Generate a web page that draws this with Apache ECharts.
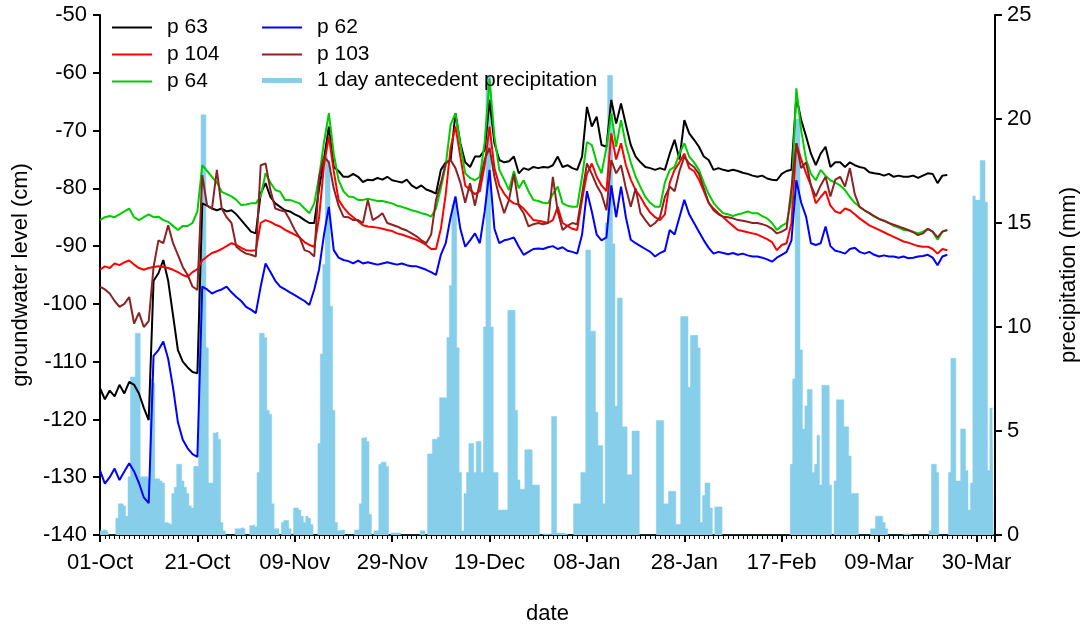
<!DOCTYPE html>
<html>
<head>
<meta charset="utf-8">
<title>groundwater level and precipitation</title>
<script src="https://cdn.jsdelivr.net/npm/echarts@6/dist/echarts.min.js"></script>
<style>
  html, body { margin: 0; padding: 0; background: #fff; }
  #chart { width: 1090px; height: 631px; }
</style>
</head>
<body>
<div id="chart"></div>
<script>
// x labels, one every 20 days from 01-Oct
var xTickLabels = ['01-Oct', '21-Oct', '09-Nov', '29-Nov', '19-Dec', '08-Jan', '28-Jan', '17-Feb', '09-Mar', '30-Mar']

// groundwater level (cm), one value per day from 01-Oct
var p63 = [
  -114.6, -116.5, -115, -116, -114, -115.5, -113.5, -114, -115.5, -118,
  -120.1, -96, -94.7, -92.4, -96, -102, -108, -110, -111, -111.8,
  -112, -82.6, -83, -83.5, -83.8, -83.5, -84, -83.8, -84.5, -85.5,
  -86.5, -87.5, -87.8, -80.9, -79.1, -81.5, -82.6, -83.2, -83.8, -84,
  -84.5, -84.9, -85.5, -86, -86, -80, -75, -69.3, -76.3, -77,
  -78, -78, -77.5, -78, -78.9, -78.5, -78.6, -78.2, -78.5, -78,
  -78.6, -78.8, -79, -78.5, -79.5, -80, -79.5, -80.2, -80.5, -80.9,
  -76.8, -75.5, -75.1, -67, -72.2, -75.5, -76.3, -74.5, -74.5, -73.4,
  -64.7, -72.2, -75.1, -75.5, -75.3, -74.5, -77.4, -76.5, -76.8, -76.3,
  -76.5, -76.3, -76.4, -76, -74.5, -76.3, -76, -76.5, -76.8, -74.5,
  -65.9, -69.3, -67.6, -72.5, -72.8, -64.7, -68.8, -65.3, -69, -72.5,
  -74.5, -75.5, -76.3, -76.5, -76.8, -76.5, -76.8, -74, -71.6, -75,
  -68.2, -70.5, -71.6, -72.8, -74.5, -75.1, -76.8, -76.5, -76.8, -77,
  -76.8, -77, -77.3, -77.5, -77.8, -78, -77.8, -78.3, -78.5, -78.6,
  -77.5, -77, -76.8, -64.1, -68.2, -71, -74, -76, -74, -72.8,
  -76.3, -75.5, -75.5, -76.3, -75.5, -76, -76.3, -76.5, -77.2, -77.4,
  -77.5, -77.8, -77.5, -78, -77.8, -78, -78, -77.8, -78.2, -77.8,
  -77.4, -77.5, -79.1, -77.8, -77.7
]
var p104 = [
  -94.1, -93.5, -93.8, -93, -93.3, -92.8, -92.5, -93.2, -93.8, -94.1,
  -93.8, -93.6, -93.5, -93.6, -93.8, -94.1, -94.5, -95, -95.3, -94.5,
  -94, -92.5, -91.8, -91.2, -90.9, -90.5, -90, -89.5, -89.8, -90.3,
  -90.7, -90.8, -90.7, -86, -85.5, -85.8, -86.3, -86.6, -87.2, -87.6,
  -88, -88.5, -89.3, -89.8, -90.1, -85, -76, -71, -77, -82,
  -83.3, -84.3, -85, -85.7, -86.4, -86.6, -86.7, -86.8, -87, -87.2,
  -87.4, -87.8, -88, -88.3, -88.6, -88.9, -89.3, -89.8, -90.5, -90.5,
  -87, -81, -73, -69.3, -74.5, -79.5, -80.3, -81, -80.5, -76,
  -69.3, -76.5, -79.5, -80.9, -82, -82.6, -82.8, -83.5, -84.5, -85.5,
  -85.6, -85.8, -86, -85.5, -83.2, -86, -86.5, -87, -87.2, -82,
  -77.5, -75.7, -78, -79.5, -80.5, -70.5, -75, -72.2, -76, -78.5,
  -80.3, -81.5, -83, -84.2, -85, -85.5, -84.5, -79, -76.8, -75.5,
  -74, -76.5, -77, -78.5, -80.5, -82.5, -83.5, -84.3, -85, -85.8,
  -86.5, -87.2, -87.4, -87.6, -87.8, -88, -88.4, -88.8, -89.3, -90.7,
  -89.8, -89.5, -86, -72.2, -75, -77.4, -79.5, -82.6, -81.5, -80.5,
  -83, -84, -84.3, -83.5, -83.8, -84.5, -85.2, -85.8, -86.4, -86.8,
  -87.2, -87.6, -88, -88.4, -88.8, -89.2, -89.4, -89.7, -90, -90.1,
  -90.1, -90.5, -91.3, -90.5, -90.7
]
var p64 = [
  -85.5, -85, -84.8, -85, -84.5, -84, -83.5, -85, -85.5, -85,
  -84.5, -85, -84.9, -85.5, -85.8, -86.5, -87.2, -86.5, -86.5, -86,
  -84, -76, -77, -78, -79, -80.6, -81, -81.4, -82, -82.9,
  -82.8, -82.6, -82.6, -81.4, -77.4, -79, -80.3, -80.6, -82, -82,
  -82.3, -82.6, -83.5, -84.3, -82.6, -78, -72, -67, -74, -78.6,
  -80.5, -81.4, -81.5, -82, -82, -81.8, -82, -82.2, -82.2, -82.4,
  -82.6, -83, -83.2, -83.5, -83.8, -84, -84.3, -84.5, -84.9, -83.5,
  -80, -76, -69, -67, -72.5, -77.4, -78.2, -78.6, -78, -72,
  -61, -71, -76.8, -78.5, -80.3, -77, -80, -78.6, -80.5, -82,
  -82.2, -82.5, -82.6, -81, -79.7, -82.6, -83, -83.2, -83.2, -78,
  -72, -72.5, -75.5, -77.4, -73, -67, -72.8, -68.2, -72.5, -75.5,
  -78, -79.8, -81.5, -82.5, -83.2, -83.2, -79, -76.8, -76.3, -74,
  -72.2, -74.5, -75.5, -76.8, -79, -81, -82.5, -83.5, -84.3, -84.5,
  -84.8, -84.5, -84.3, -84, -84.3, -84.3, -84.8, -85.2, -86, -87.2,
  -86.5, -86, -82, -62.7, -70, -75, -77.5, -78.6, -76.8, -77.8,
  -78.6, -79, -79.5, -80.3, -81.5, -82.5, -83.2, -83.8, -84.3, -84.9,
  -85.3, -85.6, -86, -86.5, -86.8, -87.2, -87.3, -87.5, -87.8, -87.5,
  -87, -87.5, -88.9, -87.5, -87.2
]
var p62 = [
  -128.8, -131.1, -130, -128.5, -130.5, -129, -127.6, -129, -131, -133.5,
  -134.5, -109, -108, -106.5, -109.5, -114.5, -120.5, -123.5, -125, -126,
  -126.5, -97, -97.5, -98.2, -97.8, -97.5, -97, -98, -98.8, -99.5,
  -100.5, -101, -101.6, -97, -93, -94.5, -96, -97, -97.5, -98,
  -98.5, -99, -99.5, -100.2, -97.5, -94, -88, -83.2, -90.7, -92,
  -92.4, -92.6, -93, -92.5, -93, -92.8, -93, -93.2, -93, -92.8,
  -93, -93.2, -93, -93.3, -93.5, -93.5, -93.8, -94.1, -94.5, -95,
  -91.5, -89.5, -85, -81.4, -87, -90.1, -89, -87.8, -89.5, -84,
  -76.8, -87, -89.5, -89, -88.8, -88.5, -90.1, -91.5, -91, -90.5,
  -90.4, -90.5, -90.2, -90, -90.5, -90.2, -90.8, -91, -91.3, -88,
  -80.5, -84, -88, -89, -88.5, -79.5, -85, -79.7, -85, -88.9,
  -89.5, -90, -90.5, -91, -91.8, -91.2, -90.8, -87.2, -88, -85,
  -82, -84.5, -86, -87.5, -89, -90.3, -91.3, -91, -91.2, -91.4,
  -91.2, -91.5, -91.3, -91.6, -91.8, -91.8, -92, -92.3, -92.7, -92,
  -91.5, -91, -89, -78.6, -82.5, -84.9, -89.5, -89.8, -89.5, -86.6,
  -90, -90.8, -91, -91.3, -90.5, -90.3, -91, -91.3, -91, -91.5,
  -91.8, -91.6, -91.8, -91.8, -92, -91.8, -92.1, -92, -91.8, -91.7,
  -91.5, -92, -93.3, -91.8, -91.5
]
var p103 = [
  -97, -97.5, -98.2, -99.5, -100.5, -100, -98.8, -103.4, -101.5, -104,
  -103, -93.6, -89, -89.5, -86.4, -89.5, -91.5, -93.6, -95, -97,
  -97.6, -77.7, -83, -83.5, -76.8, -83.5, -85, -86, -90.1, -90.8,
  -91.3, -91.5, -91.8, -76, -75.7, -80.3, -83.5, -83.8, -84, -85.5,
  -87.2, -88.5, -90.7, -91, -91.8, -78, -74.5, -75.5, -80, -83,
  -84.9, -85, -85.5, -85.5, -86, -82, -85.5, -85, -84.3, -86,
  -86.3, -86.6, -87, -87.3, -87.8, -88.3, -89, -89.5, -88, -82,
  -79.1, -75.7, -75.1, -76.5, -79, -82.5, -79.1, -83, -79, -75,
  -73, -78, -81.5, -84.3, -82, -77.5, -83, -84.3, -86.6, -86.2,
  -86, -86.2, -86, -78, -84, -87.2, -86.5, -86, -86.2, -81,
  -75.7, -77.5, -79.5, -81, -83.8, -75.1, -77.4, -76, -80, -83.2,
  -80, -84.3, -85.5, -86.6, -86, -85, -81.5, -79.7, -80.5, -77,
  -74.5, -75.7, -76.3, -77.5, -80, -82.5, -83.8, -84.5, -84.9, -85,
  -85.2, -85.5, -85.6, -85.8, -86, -86, -86.2, -86.5, -87, -87.8,
  -87.5, -87, -80, -72.2, -76.5, -75.5, -79.5, -81.4, -79.5, -78,
  -81.4, -78.5, -78, -79.7, -76.5, -81, -83.2, -83.8, -84.3, -84.8,
  -85.3, -85.6, -86, -86.3, -86.6, -86.9, -87.2, -87.6, -88.1, -87.8,
  -87, -87.5, -88.5, -87.5, -87.2
]

// 1 day antecedent precipitation (mm), one value every half day from 01-Oct
var precip = [
  0.2, 0.2, 0.25, 0.2, 0, 0, 0, 0.8, 1.5, 1.5,
  1.4, 0.9, 2.8, 7.6, 7.6, 9.7, 9.7, 2.8, 2.8, 2.8,
  2.7, 7.5, 7.3, 2.7, 2.7, 2.6, 2.5, 0.6, 0.55, 0.5,
  2.0, 2.3, 3.4, 3.4, 2.6, 2.3, 2.0, 1.4, 1.3, 3.3,
  3.3, 13.9, 20.2, 20.2, 9.0, 2.5, 2.5, 4.9, 4.95, 4.6,
  0.6, 0.2, 0, 0, 0, 0, 0.3, 0.3, 0.35, 0.3,
  0, 0, 0.45, 0.5, 0.4, 3.0, 9.7, 9.7, 9.5, 6.0,
  5.8, 1.5, 0.3, 0.3, 0, 0.6, 0.7, 0.7, 0.3, 0,
  1.3, 1.3, 1.2, 0.9, 0.6, 0.9, 0.8, 0.5, 0, 0,
  4.4, 8.7, 13, 18.2, 18.0, 11, 6.0, 0.6, 0.2, 0.24,
  0.24, 0, 0, 0, 0, 0.24, 0.25, 1.5, 4.66, 4.7,
  4.5, 1.0, 0, 0.2, 0.2, 3.4, 3.5, 3.5, 3.3, 0,
  0.1, 0.1, 0.1, 0.1, 0, 0, 0, 0, 0, 0,
  0, 0, 0.2, 0.2, 0, 3.9, 3.9, 4.6, 4.6, 4.7,
  6.6, 6.6, 6.6, 9.5, 12, 15.9, 16.2, 9, 3.0, 0.2,
  2.0, 3.0, 4.4, 4.4, 3.0, 4.5, 4.5, 3.0, 10, 22.1,
  22.1, 10, 3.0, 3.0, 1.2, 1.2, 1.2, 1.2, 10.8, 10.8,
  10.8, 6, 2.65, 2.2, 2.2, 4.1, 4.1, 4.1, 2.4, 2.4,
  2.4, 0, 0.05, 0.05, 0.05, 0, 5.7, 5.7, 0.1, 0.1,
  0.1, 0.05, 0, 0, 0, 1.5, 1.5, 1.5, 3.0, 3.0,
  13.7, 13.7, 9.8, 9.8, 5.9, 4.3, 4.3, 1.5, 15, 22.1,
  22.1, 14, 6.2, 11.4, 11.4, 5.2, 5.2, 2.9, 2.9, 5.0,
  5.0, 5.0, 0, 0, 0, 0, 0, 0, 0, 5.5,
  5.5, 5.5, 1.5, 1.5, 2.1, 2.1, 2.1, 0.5, 0.5, 10.5,
  10.5, 10.5, 7.1, 9.6, 9.6, 9.6, 9.0, 0.6, 1.9, 2.5,
  2.5, 1.3, 0, 1.35, 1.35, 1.35, 0, 0, 0, 0,
  0, 0, 0, 0, 0, 0, 0, 0, 0, 0,
  0, 0, 0, 0, 0, 0, 0, 0, 0, 0,
  0, 0, 0, 0, 3.4, 7.5, 20, 20, 8.9, 5.1,
  6.2, 7.0, 7.0, 3.0, 3.4, 4.8, 2.4, 7.2, 7.2, 7.2,
  2.4, 0, 2.6, 6.5, 6.5, 6.5, 5.2, 5.2, 3.8, 2.0,
  2.0, 2.0, 0, 0, 0, 0, 0, 0.3, 0.3, 0.9,
  0.9, 0.9, 0.6, 0.3, 0, 0, 0, 0, 0, 0,
  0.05, 0.05, 0.05, 0, 0, 0, 0, 0, 0, 0,
  0, 0.2, 3.4, 3.4, 3.0, 0, 0, 0, 0, 3.0,
  8.5, 8.5, 2.6, 2.6, 5.1, 5.1, 3.1, 1.2, 2.5, 16.3,
  16.1, 16.1, 18.0, 18.0, 16.0, 3.1, 6.1, 6.1
]

var fontFamily = "'Liberation Sans', Arial, sans-serif"
var lineColors = {
  'p 63': '#000000',
  'p 104': '#ff0000',
  'p 64': '#00cd00',
  'p 62': '#0000ff',
  'p 103': '#8b2323'
}
var precipColor = '#87ceeb'

function daily(values) {
  return values.map(function (v, i) { return [i, v] })
}

function lineSeries(name, values) {
  return {
    name: name,
    type: 'line',
    yAxisIndex: 0,
    data: daily(values),
    symbol: 'none',
    color: lineColors[name],
    lineStyle: { width: 2, color: lineColors[name] },
    z: 3
  }
}

// legend block: plain rect icons so the line items show no dot
function legendBlock(left, top, names, iconHeight) {
  return {
    orient: 'vertical',
    left: left,
    top: top,
    itemWidth: 40,
    itemHeight: iconHeight,
    itemGap: 6,
    icon: 'rect',
    textStyle: { fontSize: 21, color: '#000', lineHeight: 21, padding: [0, 0, 0, 10] },
    data: names
  }
}

var chart = echarts.init(document.getElementById('chart'))

var axisText = { color: '#000', fontFamily: fontFamily, fontSize: 22 }

var option = {
  animation: false,
  textStyle: { fontFamily: fontFamily, color: '#000' },
  grid: { left: 100, right: 95, top: 15, bottom: 96 },
  legend: [
    legendBlock(107, 12, ['p 63', 'p 104', 'p 64'], 2),
    legendBlock(257, 12, ['p 62', 'p 103'], 2),
    legendBlock(257, 65, ['1 day antecedent precipitation'], 5)
  ],
  xAxis: {
    type: 'value',
    min: 0,
    max: 183.8,
    interval: 20,
    name: 'date',
    nameLocation: 'middle',
    nameGap: 68,
    nameTextStyle: axisText,
    axisLine: { lineStyle: { color: '#000', width: 2 } },
    axisTick: { length: 7, lineStyle: { color: '#000', width: 2 } },
    minorTick: { show: true, splitNumber: 20, length: 4, lineStyle: { color: '#000', width: 1 } },
    axisLabel: {
      margin: 17,
      color: '#000',
      fontSize: 22,
      fontFamily: fontFamily,
      showMaxLabel: false,
      formatter: function (v) {
        var k = Math.round(v / 20)
        return Math.abs(v - k * 20) < 0.01 && xTickLabels[k] ? xTickLabels[k] : ''
      }
    },
    splitLine: { show: false }
  },
  yAxis: [{
    type: 'value',
    position: 'left',
    min: -140,
    max: -50,
    interval: 10,
    name: 'groundwater level (cm)',
    nameLocation: 'middle',
    nameRotate: 90,
    nameGap: 66,
    nameTextStyle: axisText,
    axisLine: { show: true, lineStyle: { color: '#000', width: 2 } },
    axisTick: { show: true, length: 7, lineStyle: { color: '#000', width: 2 } },
    axisLabel: {
      margin: 13,
      color: '#000',
      fontSize: 22,
      fontFamily: fontFamily,
      formatter: function (v) { return v < 0 ? '-' + Math.abs(v) : String(v) }
    },
    splitLine: { show: false }
  }, {
    type: 'value',
    position: 'right',
    min: 0,
    max: 25,
    interval: 5,
    name: 'precipitation (mm)',
    nameLocation: 'middle',
    nameRotate: 90,
    nameGap: 63,
    nameTextStyle: axisText,
    axisLine: { show: true, lineStyle: { color: '#000', width: 2 } },
    axisTick: { show: true, length: 7, lineStyle: { color: '#000', width: 2 } },
    axisLabel: { margin: 12, color: '#000', fontSize: 22, fontFamily: fontFamily },
    splitLine: { show: false }
  }],
  series: [{
    // half-day values drawn as a stepped fill so the bars touch
    name: '1 day antecedent precipitation',
    type: 'line',
    yAxisIndex: 1,
    data: precip.map(function (v, i) { return [i * 0.5, v] }),
    step: 'middle',
    symbol: 'none',
    color: precipColor,
    lineStyle: { width: 0.5, color: precipColor },
    areaStyle: { color: precipColor, opacity: 1 },
    z: 1
  },
    lineSeries('p 63', p63),
    lineSeries('p 104', p104),
    lineSeries('p 64', p64),
    lineSeries('p 62', p62),
    lineSeries('p 103', p103)
  ]
}

chart.setOption(option)
</script>
</body>
</html>
